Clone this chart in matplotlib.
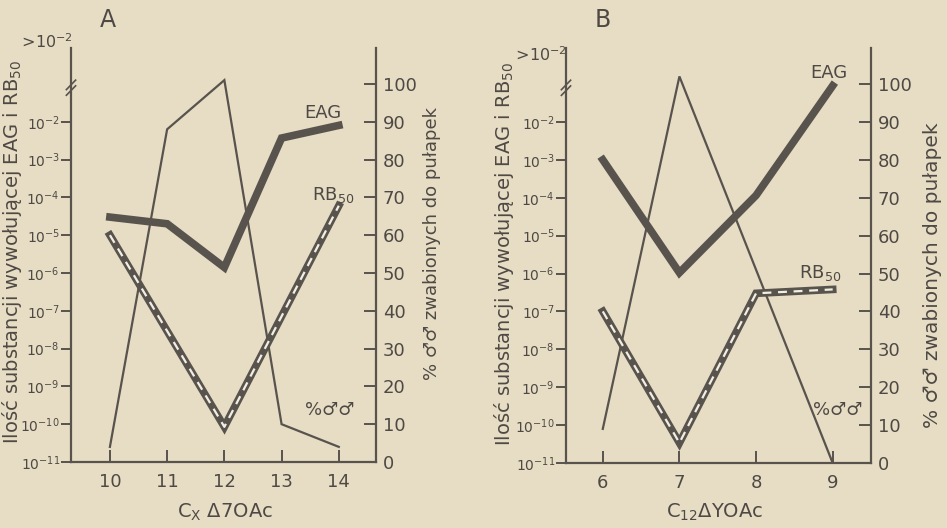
import numpy as np
import matplotlib
matplotlib.use("Agg")
import matplotlib.pyplot as plt

# ---- data ----
A_x = [10, 11, 12, 13, 14]
A_eag = [3e-5, 2e-5, 1.4e-6, 3.7e-3, 8e-3]
A_rb_x = [10, 12, 14]
A_rb50 = [1e-5, 8.5e-11, 6e-5]
A_pct = [4, 88, 101, 10, 4]

B_x = [6, 7, 8, 9]
B_eag = [1e-3, 1.05e-6, 1.15e-4, 9e-2]
B_rb50 = [1e-7, 3.4e-11, 3e-7, 3.8e-7]
B_pct = [9, 102, 51, 0]

left_exps = [-11, -10, -9, -8, -7, -6, -5, -4, -3, -2]
right_ticks = [0, 10, 20, 30, 40, 50, 60, 70, 80, 90, 100]

BG = "#e7dcc4"
INK = "#58534d"
TXT = "#4e4944"

W, H = 947, 528
plt.rcParams['mathtext.fontset'] = 'dejavusans'
fig = plt.figure(figsize=(W / 100, H / 100), dpi=100, facecolor=BG)


def fx(px):
    return px / W


def fy(py):
    return 1 - py / H


def u(v):
    # log value -> plotting unit (10^-11 -> 0)
    return np.log10(np.asarray(v, dtype=float)) + 11


def panel(rect, xlim, xticks, x, eag, rbx, rb, pctx, pct):
    ax = fig.add_axes(rect)
    ax.set_facecolor("none")
    ax.set_xlim(*xlim)
    ax.set_ylim(0, 10.95)
    ax.spines["top"].set_visible(False)
    for s in ["left", "right", "bottom"]:
        ax.spines[s].set_color(INK)
        ax.spines[s].set_linewidth(1.6)
    ax.set_yticks([e + 11 for e in left_exps])
    ax.set_yticklabels([r"$10^{%d}$" % e for e in left_exps], fontsize=10, color=TXT)
    ax.tick_params(axis="y", direction="out", length=7, width=1.4, color=INK, pad=1)
    ax.set_xticks(xticks)
    ax.set_xticklabels([str(t) for t in xticks], fontsize=13, color=TXT)
    ax.tick_params(axis="x", direction="in", length=9, width=1.4, color=INK, pad=8)

    ax2 = ax.twinx()
    ax2.set_ylim(0, 10.95)
    ax2.set_yticks([t / 10 for t in right_ticks])
    ax2.set_yticklabels([str(t) for t in right_ticks], fontsize=13, color=TXT)
    ax2.tick_params(axis="y", direction="in", length=9, width=1.4, color=INK, pad=5)
    for s in ["top", "left", "bottom", "right"]:
        ax2.spines[s].set_visible(False)

    # thin % line
    ax.plot(pctx, np.asarray(pct) / 10, color=INK, lw=1.6, solid_joinstyle="miter", zorder=3)
    # EAG thick
    ax.plot(x, u(eag), color=INK, lw=5.5, solid_joinstyle="miter", zorder=4)
    # RB50 thick with white dashes
    ax.plot(rbx, u(rb), color=INK, lw=5.5, solid_joinstyle="miter", zorder=5)
    ax.plot(rbx, u(rb), color="#f3eee2", lw=1.6, dashes=(4, 3), zorder=6)

    # break marks on left spine
    d = 0.08 * (xlim[1] - xlim[0]) / 5.3
    ax.plot([xlim[0] - d, xlim[0] + d], [9.85, 10.1], color=INK, lw=1.2, clip_on=False, zorder=7)
    ax.plot([xlim[0] - d, xlim[0] + d], [9.7, 9.95], color=INK, lw=1.2, clip_on=False, zorder=7)
    return ax


axA = panel([fx(71), fy(462), fx(376 - 71), (462 - 48) / H], (9.32, 14.65),
            A_x, A_x, A_eag, A_rb_x, A_rb50, A_x, A_pct)
axB = panel([fx(566), fy(463), fx(871 - 566), (463 - 48) / H], (5.52, 9.5),
            B_x, B_x, B_eag, B_x, B_rb50, B_x, B_pct)

# panel letters
fig.text(fx(108), fy(20), "A", fontsize=17, color=TXT, ha="center", va="center")
fig.text(fx(603), fy(20), "B", fontsize=17, color=TXT, ha="center", va="center")

# >10^-2 labels
fig.text(fx(45), fy(42), r"$>\!10^{-2}$", fontsize=11.5, color=TXT, ha="center", va="center")
fig.text(fx(539), fy(55), r"$>\!10^{-2}$", fontsize=11.5, color=TXT, ha="center", va="center")

# series labels
fig.text(fx(323), fy(113), "EAG", fontsize=13, color=TXT, ha="center", va="center")
fig.text(fx(333), fy(195), r"RB$_{50}$", fontsize=13, color=TXT, ha="center", va="center")
fig.text(fx(330), fy(410), "%\u2642\u2642", fontsize=13, color=TXT, ha="center", va="center")
fig.text(fx(829), fy(73), "EAG", fontsize=13, color=TXT, ha="center", va="center")
fig.text(fx(820), fy(273), r"RB$_{50}$", fontsize=13, color=TXT, ha="center", va="center")
fig.text(fx(838), fy(410), "%\u2642\u2642", fontsize=13, color=TXT, ha="center", va="center")

# axis labels
ylab = "Ilość substancji wywołującej EAG i RB$_{50}$"
fig.text(fx(12), fy(252), ylab, fontsize=14, color=TXT, rotation=90, ha="center", va="center")
fig.text(fx(504), fy(254), ylab, fontsize=14, color=TXT, rotation=90, ha="center", va="center")
rlab = "% \u2642\u2642 zwabionych do pułapek"
fig.text(fx(432), fy(243), rlab, fontsize=13, color=TXT, rotation=90, ha="center", va="center")
fig.text(fx(932), fy(275), rlab, fontsize=14.5, color=TXT, rotation=90, ha="center", va="center")

fig.text(fx(225), fy(512), r"C$_\mathrm{X}$ Δ7OAc", fontsize=14, color=TXT, ha="center", va="center")
fig.text(fx(715), fy(512), r"C$_{12}$ΔYOAc", fontsize=14, color=TXT, ha="center", va="center")

fig.savefig("out.png", dpi=100, facecolor=BG)
